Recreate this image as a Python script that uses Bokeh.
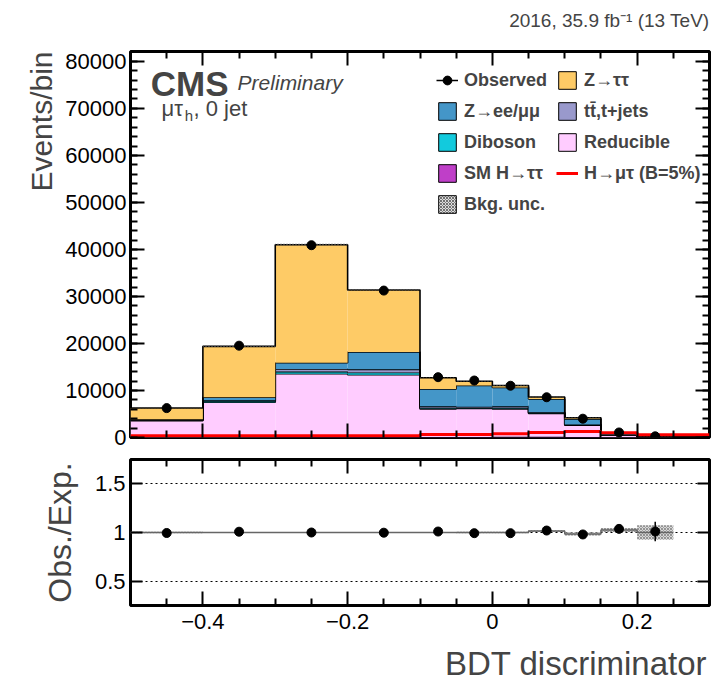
import numpy as np
from bokeh.plotting import figure
from bokeh.layouts import column
from bokeh.models import (ColumnDataSource, FixedTicker, SingleIntervalTicker, LinearAxis,
                          Range1d, CustomJSTickFormatter, Title, Label, Legend, LegendItem)
from bokeh.core.properties import value
from bokeh.embed import file_html
from bokeh.resources import INLINE

FONT = "Liberation Sans"
W = 728

# ---------------- data ----------------
edges = [-0.5, -0.4, -0.3, -0.2, -0.1, -0.05, 0.0, 0.05, 0.1, 0.15, 0.2, 0.25, 0.3]
smh = [30, 60, 120, 150, 110, 130, 140, 150, 120, 60, 20, 5]
reducible = [3550, 7450, 13450, 13200, 5950, 6070, 5920, 4980, 2520, 500, 120, 20]
diboson = [100, 250, 450, 500, 250, 150, 250, 100, 50, 20, 5, 2]
ttbar = [50, 150, 550, 650, 320, 210, 320, 120, 60, 30, 5, 3]
zll = [150, 646, 1330, 3680, 3670, 4490, 3990, 2850, 1170, 220, 60, 5]
ztt = [2390, 10834, 25100, 13190, 2420, 930, 430, 430, 280, 100, 40, 5]
signal = [360, 360, 360, 360, 640, 640, 780, 1070, 1280, 1000, 570, 570]
observed = [6250, 19530, 40900, 31250, 12830, 12120, 11010, 8560, 4000, 1070, 250]
observed_err = [79, 140, 202, 177, 113, 110, 105, 93, 63, 33, 16]
bkg_unc_rel = [0.008, 0.006, 0.005, 0.005, 0.006, 0.007, 0.007, 0.01, 0.015, 0.02, 0.075, 0.1]
ratio = [0.995, 1.008, 1.0, 0.998, 1.01, 0.993, 0.993, 1.02, 0.98, 1.037, 1.01]
ratio_err = [0.013, 0.007, 0.005, 0.006, 0.009, 0.009, 0.01, 0.011, 0.016, 0.035, 0.1]
ratio_line = [1.0, 1.0, 1.0, 1.0, 1.0, 1.0, 1.0, 1.015, 0.985, 1.025, 1.0]

N_SMH = "SM H\u2192\u03c4\u03c4"
N_RED = "Reducible"
N_VV = "Diboson"
N_TT = "tt\u0304,t+jets"
N_ZLL = "Z\u2192ee/\u03bc\u03bc"
N_ZTT = "Z\u2192\u03c4\u03c4"
processes = [
    (N_SMH, smh, "#BF3FC8"),
    (N_RED, reducible, "#FFCCFF"),
    (N_VV, diboson, "#12CADD"),
    (N_TT, ttbar, "#9999CC"),
    (N_ZLL, zll, "#4496C8"),
    (N_ZTT, ztt, "#FECB66"),
]

left = edges[:-1]
right = edges[1:]
centers = [(a + b) / 2 for a, b in zip(left, right)]

X0, X1 = -0.5, 0.3
Y1 = 82100
NAN = float("nan")


def text_strip(height, text, x, y, size, align="right"):
    """A bare strip (no axes) holding one line of text, positioned in pixel data units."""
    f = figure(width=W, height=height, x_range=Range1d(0, W), y_range=Range1d(0, height),
               x_axis_type=None, y_axis_type=None, output_backend="svg", toolbar_location=None,
               title_location=None, min_border=0, min_border_left=0, min_border_right=0,
               min_border_top=0, min_border_bottom=0)
    f.outline_line_color = None
    f.add_layout(Label(x=x, y=y, text=text, text_font=FONT, text_font_size=size,
                       text_align=align, text_baseline="middle"))
    return f


# ---------------- header strip ----------------
TOP_H = 32
p0 = text_strip(TOP_H, "2016, 35.9 fb\u207b\u00b9 (13 TeV)", 728, TOP_H - 20, "19px")

# ---------------- upper panel ----------------
p1 = figure(width=W, height=452 - TOP_H, x_range=Range1d(X0, X1), y_range=Range1d(0, Y1),
            output_backend="svg", toolbar_location=None, title_location=None,
            min_border_left=130, min_border_right=19, min_border_top=51 - TOP_H,
            min_border_bottom=15)
p1.xgrid.visible = False
p1.ygrid.visible = False
p1.outline_line_color = "black"
p1.outline_line_width = 3

bottom = [0.0] * len(left)
for name, vals, col in processes:
    top = [b + v for b, v in zip(bottom, vals)]
    src = ColumnDataSource(dict(left=left, right=right, bottom=bottom, top=top))
    p1.quad(left="left", right="right", bottom="bottom", top="top", source=src,
            fill_color=col, line_color=None)
    bottom = top
    p1.step(x=edges, y=top + [top[-1]], mode="after", line_color="black", line_width=1.6)

total = bottom
unc_src = ColumnDataSource(dict(left=left, right=right,
                                bottom=[t * (1 - r) for t, r in zip(total, bkg_unc_rel)],
                                top=[t * (1 + r) for t, r in zip(total, bkg_unc_rel)]))
p1.quad(left="left", right="right", bottom="bottom", top="top", source=unc_src,
        fill_color=None, line_color=None, hatch_pattern="x", hatch_color="#555555",
        hatch_scale=3, hatch_weight=0.7)

sig_r = p1.step(x=edges, y=signal + [signal[-1]], mode="after", line_color="#FF0000", line_width=3)

obs_src = ColumnDataSource(dict(x=centers[:len(observed)], y=observed,
                                lo=[o - e for o, e in zip(observed, observed_err)],
                                hi=[o + e for o, e in zip(observed, observed_err)]))
p1.segment(x0="x", x1="x", y0="lo", y1="hi", source=obs_src, line_color="black", line_width=1.5)
p1.scatter(x="x", y="y", source=obs_src, size=9, fill_color="black", line_color="black")

# legend proxies (NaN data: never drawn in the plot, only as legend swatches)
def proxy_quad(col, **kw):
    return p1.quad(left=[NAN], right=[NAN], bottom=[NAN], top=[NAN], fill_color=col,
                   line_color="black", line_width=1, **kw)

lg_obs_line = p1.segment(x0=[NAN], x1=[NAN], y0=[NAN], y1=[NAN], line_color="black", line_width=1.5)
lg_obs_pt = p1.scatter(x=[NAN], y=[NAN], size=9, fill_color="black", line_color="black")
lg = {name: proxy_quad(col) for name, vals, col in processes}
lg_unc = p1.quad(left=[NAN], right=[NAN], bottom=[NAN], top=[NAN], fill_color="#dddddd",
                 line_color="black", line_width=1, hatch_pattern="x", hatch_color="#444444",
                 hatch_scale=3, hatch_weight=0.7)

# column-major order: left column then right column
items = [
    LegendItem(label="Observed", renderers=[lg_obs_line, lg_obs_pt]),
    LegendItem(label=N_ZLL, renderers=[lg[N_ZLL]]),
    LegendItem(label=N_VV, renderers=[lg[N_VV]]),
    LegendItem(label=N_SMH, renderers=[lg[N_SMH]]),
    LegendItem(label="Bkg. unc.", renderers=[lg_unc]),
    LegendItem(label=N_ZTT, renderers=[lg[N_ZTT]]),
    LegendItem(label=N_TT, renderers=[lg[N_TT]]),
    LegendItem(label=N_RED, renderers=[lg[N_RED]]),
    LegendItem(label="H\u2192\u03bc\u03c4 (B=5%)", renderers=[sig_r]),
]
legend = Legend(items=items, ncols=2, location=(306, 222), border_line_color=None,
                background_fill_alpha=0, label_text_font=FONT, label_text_font_style="bold",
                label_text_font_size="18px", glyph_width=22, glyph_height=22, label_height=22,
                label_standoff=6, spacing=9, padding=0, margin=0)
p1.add_layout(legend)

# axes styling
def style_axis(ax, major_in=14, minor_in=7):
    ax.major_tick_in = major_in
    ax.major_tick_out = 0
    ax.minor_tick_in = minor_in
    ax.minor_tick_out = 0
    ax.major_tick_line_width = 2
    ax.minor_tick_line_width = 2
    ax.axis_line_color = None
    ax.major_label_text_font = FONT
    ax.major_label_text_font_size = "22px"
    ax.major_label_text_color = "black"

xt = FixedTicker(ticks=[-0.4, -0.2, 0.0, 0.2],
                 minor_ticks=[-0.45, -0.35, -0.3, -0.25, -0.15, -0.1, -0.05, 0.05, 0.1, 0.15, 0.25])
empty_fmt = CustomJSTickFormatter(code="return ''")
xfmt = CustomJSTickFormatter(code="""
const v = Math.round(tick*10)/10;
return (v < 0 ? '\u2212' : '') + Math.abs(v).toString();
""")
yfmt = CustomJSTickFormatter(code="return Math.round(tick).toString();")

p1.xaxis.ticker = xt
p1.xaxis.formatter = empty_fmt
style_axis(p1.xaxis[0])
p1.xaxis.major_label_text_font_size = "0px"
p1.xaxis.major_label_standoff = 0

yt = SingleIntervalTicker(interval=10000, num_minor_ticks=5)
p1.yaxis.ticker = yt
p1.yaxis.formatter = yfmt
style_axis(p1.yaxis[0])
p1.yaxis.major_label_standoff = 4

ax_top = LinearAxis(ticker=xt, formatter=empty_fmt)
style_axis(ax_top)
ax_top.major_label_text_font_size = "0px"
ax_top.major_label_standoff = 0
p1.add_layout(ax_top, "above")
ax_r = LinearAxis(ticker=yt, formatter=empty_fmt)
style_axis(ax_r)
ax_r.major_label_text_font_size = "0px"
ax_r.major_label_standoff = 0
p1.add_layout(ax_r, "right")

p1.add_layout(Title(text="Events/bin", align="right", text_font=FONT, text_font_size="30px",
                    text_font_style="normal"), "left")

p1.add_layout(Label(x=-0.472, y=75200, text="CMS", text_font=FONT, text_font_size="35px",
                    text_font_style="bold", text_baseline="alphabetic"))
p1.add_layout(Label(x=-0.352, y=75500, text="Preliminary", text_font=FONT, text_font_size="21px",
                    text_font_style="italic", text_baseline="alphabetic"))
p1.add_layout(Label(x=-0.457, y=69900, text="\u03bc\u03c4", text_font=FONT, text_font_size="22px",
                    text_baseline="alphabetic"))
p1.add_layout(Label(x=-0.425, y=68400, text="h", text_font=FONT, text_font_size="15px",
                    text_baseline="alphabetic"))
p1.add_layout(Label(x=-0.413, y=69900, text=", 0 jet", text_font=FONT, text_font_size="22px",
                    text_baseline="alphabetic"))

# ---------------- ratio panel ----------------
RY0, RY1 = 0.255, 1.745
BOT_H = 36
p2 = figure(width=W, height=229 - BOT_H, x_range=p1.x_range, y_range=Range1d(RY0, RY1),
            output_backend="svg", toolbar_location=None, title_location=None,
            min_border_left=130, min_border_right=19, min_border_top=7,
            min_border_bottom=76 - BOT_H)
p2.xgrid.visible = False
p2.outline_line_color = "black"
p2.outline_line_width = 3
ryt = FixedTicker(ticks=[0.5, 1.0, 1.5], minor_ticks=[])
p2.yaxis.ticker = ryt
p2.yaxis.formatter = CustomJSTickFormatter(code="return tick.toString();")
style_axis(p2.yaxis[0], major_in=12)
p2.yaxis.axis_label = "Obs./Exp."
p2.yaxis.axis_label_text_font = FONT
p2.yaxis.axis_label_text_font_size = "32px"
p2.yaxis.axis_label_text_font_style = "normal"
p2.yaxis.axis_label_standoff = 14
p2.ygrid.ticker = ryt
p2.ygrid.grid_line_color = "black"
p2.ygrid.grid_line_dash = "2 3"
p2.ygrid.grid_line_width = 1

p2.xaxis.ticker = xt
p2.xaxis.formatter = xfmt
style_axis(p2.xaxis[0])
p2.xaxis.major_label_standoff = 8

ax2_top = LinearAxis(ticker=xt, formatter=empty_fmt)
style_axis(ax2_top)
ax2_top.major_label_text_font_size = "0px"
ax2_top.major_label_standoff = 0
p2.add_layout(ax2_top, "above")
ax2_r = LinearAxis(ticker=ryt, formatter=empty_fmt)
style_axis(ax2_r, major_in=12)
ax2_r.major_label_text_font_size = "0px"
ax2_r.major_label_standoff = 0
p2.add_layout(ax2_r, "right")

n = len(ratio)
band_src = ColumnDataSource(dict(left=left[:n], right=right[:n],
                                 bottom=[c - r for c, r in zip(ratio_line, bkg_unc_rel[:n])],
                                 top=[c + r for c, r in zip(ratio_line, bkg_unc_rel[:n])]))
p2.quad(left="left", right="right", bottom="bottom", top="top", source=band_src,
        fill_color="#d8d8d8", line_color=None, hatch_pattern="x", hatch_color="#777777",
        hatch_scale=3, hatch_weight=0.7)
p2.step(x=edges[:n + 1], y=ratio_line + [ratio_line[-1]], mode="after", line_color="#666666",
        line_width=1.5)

rat_src = ColumnDataSource(dict(x=centers[:n], y=ratio,
                                lo=[r - e for r, e in zip(ratio, ratio_err)],
                                hi=[r + e for r, e in zip(ratio, ratio_err)]))
p2.segment(x0="x", x1="x", y0="lo", y1="hi", source=rat_src, line_color="black", line_width=1.5)
p2.scatter(x="x", y="y", source=rat_src, size=9, fill_color="black", line_color="black")

# ---------------- x-axis title strip ----------------
p3 = text_strip(BOT_H, "BDT discriminator", 725, BOT_H - 18, "33px")

layout = column(p0, p1, p2, p3, spacing=0)
open("out.html", "w").write(file_html(layout, INLINE))
